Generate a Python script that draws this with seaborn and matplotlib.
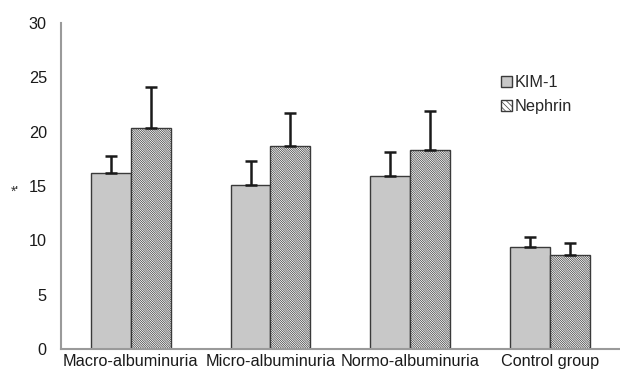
import matplotlib
matplotlib.use("Agg")
import matplotlib.pyplot as plt
import seaborn as sns
import pandas as pd
import numpy as np
from matplotlib.patches import Patch

groups = ["Macro-albuminuria", "Micro-albuminuria", "Normo-albuminuria", "Control group"]
series = ["KIM-1", "Nephrin"]
kim1_mean = [16.2, 15.1, 15.9, 9.35]
kim1_sd = [1.6, 2.2, 2.25, 1.0]
nephrin_mean = [20.3, 18.7, 18.3, 8.65]
nephrin_sd = [3.8, 3.0, 3.6, 1.1]
y_ticks = [0, 5, 10, 15, 20, 25, 30]

df = pd.DataFrame({
    "group": groups * 2,
    "marker": ["KIM-1"] * 4 + ["Nephrin"] * 4,
    "value": kim1_mean + nephrin_mean,
    "sd": kim1_sd + nephrin_sd,
})

sns.set_theme(style="white")
plt.rcParams["font.family"] = ["Liberation Sans", "DejaVu Sans"]
plt.rcParams["hatch.linewidth"] = 0.5
plt.rcParams["hatch.color"] = "#5a5a5a"

fine_hatch = "\\" * 15

fig = plt.figure(figsize=(6.2, 3.72), dpi=100)
ax = fig.add_axes([0.098, 0.062, 0.902, 0.876])

sns.barplot(data=df, x="group", y="value", hue="marker", order=groups,
            hue_order=series, errorbar=None, width=0.57, ax=ax,
            palette=["#c8c8c8", "#ffffff"], saturation=1, legend=False)

# style bars and add one-sided SD error bars
for container, name, sds in zip(ax.containers, series, [kim1_sd, nephrin_sd]):
    for bar, sd in zip(container, sds):
        bar.set_edgecolor("#3a3a3a")
        bar.set_linewidth(1.0)
        if name == "Nephrin":
            bar.set_hatch(fine_hatch)
        cx = bar.get_x() + bar.get_width() / 2
        top = bar.get_height()
        ax.errorbar(cx, top, yerr=[[0], [sd]], fmt="none", ecolor="#1a1a1a",
                    elinewidth=1.8, capsize=4, capthick=1.8, zorder=3)

ax.set_ylim(0, 30)
ax.set_xlim(-0.5, 3.5)
ax.set_yticks(y_ticks)
ax.set_yticklabels([str(t) for t in y_ticks])
ax.tick_params(axis="both", length=0, labelsize=11.7, colors="#1a1a1a")
ax.tick_params(axis="y", pad=10)
ax.tick_params(axis="x", pad=4)
ax.set_xlabel("")
ax.set_ylabel("")
fig.text(15 / 620, 1 - 192 / 372, "*'", fontsize=10, color="#333333",
         ha="center", va="center")
for side in ["top", "right"]:
    ax.spines[side].set_visible(False)
for side in ["left", "bottom"]:
    ax.spines[side].set_color("#9a9a9a")
    ax.spines[side].set_linewidth(1.5)

handles = [
    Patch(facecolor="#c8c8c8", edgecolor="#3a3a3a", linewidth=1.0),
    Patch(facecolor="#ffffff", edgecolor="#3a3a3a", linewidth=1.0, hatch="\\" * 6),
]
fig.legend(handles, series, loc="upper left", bbox_to_anchor=(0.797, 0.816),
           frameon=False, fontsize=11.7, handlelength=0.7, handleheight=0.7,
           handletextpad=0.15, labelspacing=0.55, borderaxespad=0)

fig.savefig("out.png", dpi=100)
